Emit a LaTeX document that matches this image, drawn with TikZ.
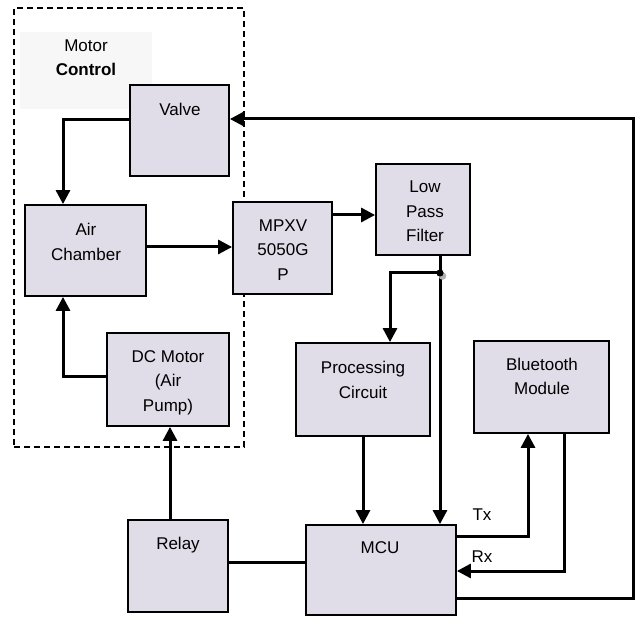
\documentclass[tikz,border=0pt]{standalone}
\usepackage{fontspec}
\setmainfont{Liberation Sans}
\usetikzlibrary{arrows.meta}
\definecolor{boxfill}{RGB}{224,220,232}
\definecolor{labelbg}{RGB}{247,247,247}
\tikzset{
  blk/.style={draw=black, fill=boxfill, line width=1.8pt, inner sep=0pt},
  txt/.style={align=center, inner sep=0pt, font=\fontsize{17}{24.5}\selectfont},
  conn/.style={line width=3pt},
  arr/.style={conn, -{Triangle[length=14pt,width=14pt]}},
}
\begin{document}
\begin{tikzpicture}[x=1pt,y=-1pt]
\useasboundingbox (0,0) rectangle (637,617);
% motor control group
\node[fill=labelbg, inner sep=0pt, minimum width=132pt, minimum height=77pt] (mcbg) at (86,70.5) {};
\node[draw=black, line width=1.5pt, dash pattern=on 6pt off 4pt, inner sep=0pt, minimum width=230pt, minimum height=439pt] (group) at (129,227.5) {};
\node[txt] (tmc) at (86,57.5) {Motor\\\textbf{Control}};
% boxes
\node[blk, minimum width=99pt, minimum height=91pt] (valve) at (179.5,130.5) {};
\node[blk, minimum width=121pt, minimum height=91pt] (air) at (85.5,250.5) {};
\node[blk, minimum width=99pt, minimum height=92pt] (mpxv) at (282.5,248) {};
\node[blk, minimum width=94pt, minimum height=91pt] (lpf) at (423,209.5) {};
\node[blk, minimum width=134pt, minimum height=93pt] (proc) at (363,389.5) {};
\node[blk, minimum width=135pt, minimum height=92pt] (bt) at (541.5,387) {};
\node[blk, minimum width=150pt, minimum height=90pt] (mcu) at (381,570) {};
\node[blk, minimum width=100pt, minimum height=92pt] (relay) at (178,566) {};
\node[blk, minimum width=122pt, minimum height=93pt] (dc) at (168,379.5) {};
% texts
\node[txt] (tvalve) at (180,109) {Valve};
\node[txt] (tair) at (86,242) {Air\\Chamber};
\node[txt] (tmpxv) at (283,250) {MPXV\\5050G\\P};
\node[txt] (tlpf) at (425,211.5) {Low\\Pass\\Filter};
\node[txt] (tproc) at (363,380) {Processing\\Circuit};
\node[txt] (tbt) at (542,376.5) {Bluetooth\\Module};
\node[txt] (tmcu) at (380,548) {MCU};
\node[txt] (tdc) at (168,382.5) {DC Motor\\(Air\\Pump)};
\node[txt] (trelay) at (178,545) {Relay};
\node[txt] (ttx) at (482,515) {Tx};
\node[txt] (trx) at (482,557) {Rx};
% connectors
\draw[arr] (valve.west |- 0,120) -| (air.north -| 63,0);
\draw[arr] (air.east |- 0,247) -- (mpxv.west |- 0,247);
\draw[arr] (mpxv.east |- 0,215) -- (lpf.west |- 0,215);
\draw[arr] (lpf.south -| 440,0) -- (mcu.north -| 440,0);
\coordinate (j) at (440,273);
\draw[arr] (j) -| (proc.north -| 390,0);
\draw[arr] (proc.south) -- (proc.south |- mcu.north);
\draw[arr] (mcu.east |- 0,536) -| (bt.south -| 528,0);
\draw[arr] (bt.south -| 564,0) |- (mcu.east |- 0,571);
\coordinate (corner) at (633,119);
\draw[arr] (mcu.east |- 0,598) -| (corner) -- (valve.east |- corner);
\draw[conn] (relay.east |- 0,562) -- (mcu.west |- 0,562);
\draw[arr] (relay.north -| 170,0) -- (dc.south -| 170,0);
\draw[arr] (dc.west |- 0,377) -| (air.south -| 63,0);
% junction dot
\fill[gray!60] (442.5,276) circle (3.8pt);
\fill[black] (j) circle (3.6pt);
\end{tikzpicture}
\end{document}
